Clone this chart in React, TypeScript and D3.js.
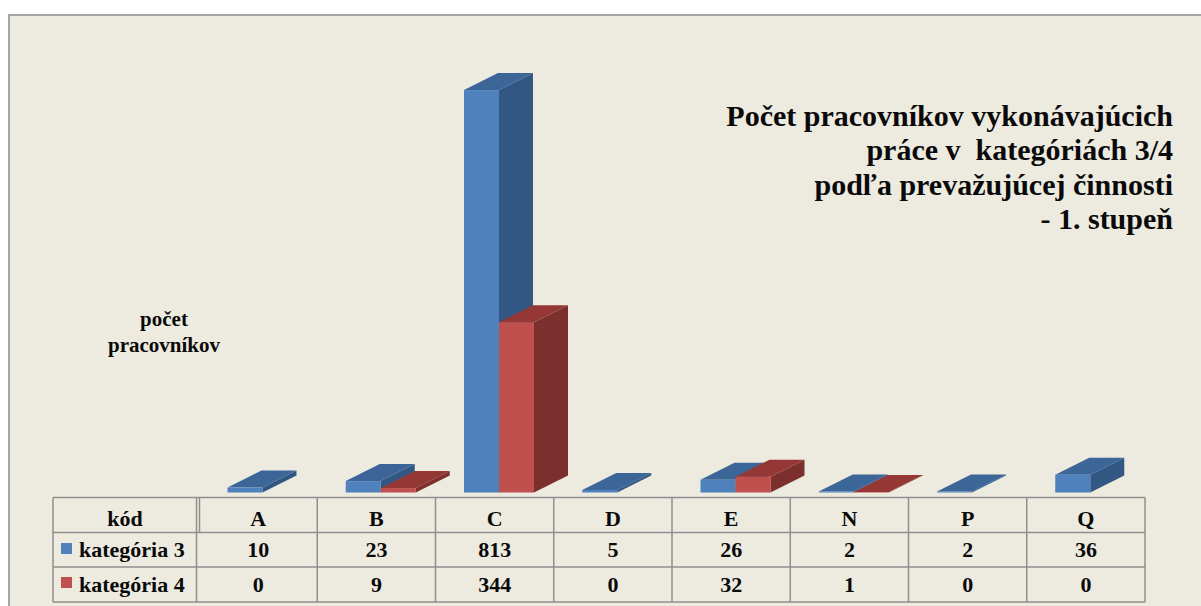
import React from "react";
import * as d3 from "d3";

const categories = ["A", "B", "C", "D", "E", "N", "P", "Q"];
const kategoria3 = [10, 23, 813, 5, 26, 2, 2, 36];
const kategoria4 = [0, 9, 344, 0, 32, 1, 0, 0];
const seriesNames = ["kategória 3", "kategória 4"];
const headerLabel = "kód";
const titleLines = [
  "Počet pracovníkov vykonávajúcich",
  "práce v  kategóriách 3/4",
  "podľa prevažujúcej činnosti",
  "- 1. stupeň",
];
const axisLabelLines = ["počet", "pracovníkov"];

const W = 1201;
const H = 606;
const FONT = "'Liberation Serif', 'Times New Roman', serif";

const COLORS = {
  blue: { front: "#4F81BD", top: "#3C6698", side: "#335783" },
  red: { front: "#C0504D", top: "#953735", side: "#7B302E" },
};

const tableLeft = 53;
const tableRight = 1145;
const colStart = 199;
const rowLines = [497.5, 532.5, 567, 602];
const rowBaselines = [526, 557, 592];

export default function App() {
  const x = d3.scaleBand<string>().domain(categories).range([colStart, tableRight]);
  const y = d3.scaleLinear().domain([0, 900]).range([492.5, 47]);
  const barW = 35;
  const offset = 28.5;
  const dx = 34;
  const dy = -17;
  const base = y(0);

  const series = [
    { values: kategoria3, c: COLORS.blue, shift: 0 },
    { values: kategoria4, c: COLORS.red, shift: barW },
  ];

  const bars: React.ReactNode[] = [];
  categories.forEach((cat, i) => {
    series.forEach((s, si) => {
      const v = s.values[i];
      if (!v) return;
      const x0 = (x(cat) as number) + offset + s.shift;
      const x1 = x0 + barW;
      const yt = y(v);
      const top = d3.path();
      top.moveTo(x0, yt);
      top.lineTo(x1, yt);
      top.lineTo(x1 + dx, yt + dy);
      top.lineTo(x0 + dx, yt + dy);
      top.closePath();
      const side = d3.path();
      side.moveTo(x1, yt);
      side.lineTo(x1 + dx, yt + dy);
      side.lineTo(x1 + dx, base + dy);
      side.lineTo(x1, base);
      side.closePath();
      bars.push(
        <g key={`${cat}-${si}`}>
          <path d={side.toString()} fill={s.c.side} />
          <path d={top.toString()} fill={s.c.top} />
          <rect x={x0} y={yt} width={barW} height={base - yt} fill={s.c.front} />
        </g>
      );
    });
  });

  const lineColor = "#8F8F8F";

  return (
    <div style={{ position: "absolute", left: 0, top: 0, width: W, height: H, background: "#fff" }}>
      <svg width={W} height={H} style={{ display: "block" }}>
        <rect x={9} y={15} width={1200} height={600} fill="#EDEAE0" stroke="#A5A5A5" strokeWidth={2} />

        {bars}

        {/* Title */}
        <g fontFamily={FONT} fontWeight="bold" fontSize={30} fill="#0a0a0a" textAnchor="end">
          {titleLines.map((t, i) => (
            <text key={i} x={1173} y={125.5 + i * 34.5} style={{ whiteSpace: "pre" }}>
              {t}
            </text>
          ))}
        </g>

        {/* axis label */}
        <g fontFamily={FONT} fontWeight="bold" fontSize={21} fill="#0a0a0a" textAnchor="middle">
          {axisLabelLines.map((t, i) => (
            <text key={i} x={164} y={326 + i * 26}>
              {t}
            </text>
          ))}
        </g>

        {/* Table */}
        <g stroke={lineColor} strokeWidth={1.5} fill="none">
          {rowLines.map((ry, i) => (
            <line key={`h${i}`} x1={tableLeft} x2={tableRight} y1={ry} y2={ry} />
          ))}
          <line x1={tableLeft} x2={tableLeft} y1={rowLines[0]} y2={rowLines[3]} />
          <line x1={196.5} x2={196.5} y1={rowLines[0]} y2={rowLines[3]} />
          <line x1={199.5} x2={199.5} y1={rowLines[0]} y2={rowLines[1]} />
          {categories.map((c) => (
            <line
              key={`v${c}`}
              x1={(x(c) as number) + x.bandwidth()}
              x2={(x(c) as number) + x.bandwidth()}
              y1={rowLines[0]}
              y2={rowLines[3]}
            />
          ))}
        </g>

        <g fontFamily={FONT} fontWeight="bold" fontSize={22} fill="#0a0a0a">
          <text x={(tableLeft + 197) / 2} y={rowBaselines[0]} textAnchor="middle">
            {headerLabel}
          </text>
          {categories.map((c, i) => (
            <g key={`t${c}`} textAnchor="middle">
              <text x={(x(c) as number) + x.bandwidth() / 2} y={rowBaselines[0]}>
                {c}
              </text>
              <text x={(x(c) as number) + x.bandwidth() / 2} y={rowBaselines[1]}>
                {kategoria3[i]}
              </text>
              <text x={(x(c) as number) + x.bandwidth() / 2} y={rowBaselines[2]}>
                {kategoria4[i]}
              </text>
            </g>
          ))}
          {seriesNames.map((n, i) => (
            <g key={n}>
              <rect
                x={61}
                y={543 + i * 34}
                width={11}
                height={11}
                fill={i === 0 ? COLORS.blue.front : COLORS.red.front}
              />
              <text x={79} y={rowBaselines[i + 1]}>
                {n}
              </text>
            </g>
          ))}
        </g>
      </svg>
    </div>
  );
}
